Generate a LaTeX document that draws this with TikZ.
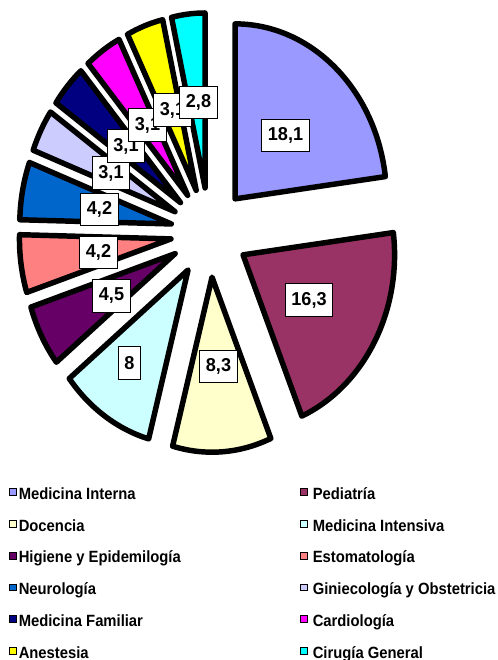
\documentclass[tikz,border=0pt]{standalone}
\usepackage{fontspec}
\newfontfamily\legendfont[FakeStretch=0.91]{Liberation Sans}
\newfontfamily\labelfont[FakeStretch=0.97]{Liberation Sans}

\definecolor{colMI}{HTML}{9999FF}
\definecolor{colPed}{HTML}{993366}
\definecolor{colDoc}{HTML}{FFFFCC}
\definecolor{colMInt}{HTML}{CCFFFF}
\definecolor{colHig}{HTML}{660066}
\definecolor{colEst}{HTML}{FF8080}
\definecolor{colNeu}{HTML}{0066CC}
\definecolor{colGin}{HTML}{CCCCFF}
\definecolor{colMF}{HTML}{000080}
\definecolor{colCar}{HTML}{FF00FF}
\definecolor{colAne}{HTML}{FFFF00}
\definecolor{colCir}{HTML}{00FFFF}

\begin{document}
\begin{tikzpicture}[x=0.75pt, y=0.75pt,
  slice/.style={draw=black, line width=4.1pt, line join=round},
  valbox/.style={draw=black, line width=0.75pt, fill=white, inner xsep=4.7pt, inner ysep=0pt,
    minimum height=24.3pt, font=\labelfont\bfseries\fontsize{14}{16}\selectfont},
  keybox/.style={draw=black, line width=0.6pt, minimum size=5.2pt, inner sep=0pt},
  keytext/.style={anchor=base west, inner sep=0pt, font=\legendfont\bfseries\fontsize{12.2}{14}\selectfont}]

  \useasboundingbox (0,0) rectangle (497,660);

  % exploded pie
  \begin{scope}[shift={(209.4,427.5)}, xscale=0.866]
    \filldraw[slice, fill=colMI]   (48.655:44.8)   -- ++(90:175)      arc[start angle=90,      end angle=7.31,    radius=175] -- cycle;
    \filldraw[slice, fill=colPed]  (-29.925:44.8)  -- ++(7.31:175)    arc[start angle=7.31,    end angle=-67.16,  radius=175] -- cycle;
    \filldraw[slice, fill=colDoc]  (-86.12:44.8)   -- ++(-67.16:175)  arc[start angle=-67.16,  end angle=-105.08, radius=175] -- cycle;
    \filldraw[slice, fill=colMInt] (-123.355:44.8) -- ++(-105.08:175) arc[start angle=-105.08, end angle=-141.63, radius=175] -- cycle;
    \filldraw[slice, fill=colHig]  (-151.91:44.8)  -- ++(-141.63:175) arc[start angle=-141.63, end angle=-162.19, radius=175] -- cycle;
    \filldraw[slice, fill=colEst]  (-171.785:44.8) -- ++(-162.19:175) arc[start angle=-162.19, end angle=-181.38, radius=175] -- cycle;
    \filldraw[slice, fill=colNeu]  (-190.975:44.8) -- ++(-181.38:175) arc[start angle=-181.38, end angle=-200.57, radius=175] -- cycle;
    \filldraw[slice, fill=colGin]  (-207.65:44.8)  -- ++(-200.57:175) arc[start angle=-200.57, end angle=-214.73, radius=175] -- cycle;
    \filldraw[slice, fill=colMF]   (-221.81:44.8)  -- ++(-214.73:175) arc[start angle=-214.73, end angle=-228.89, radius=175] -- cycle;
    \filldraw[slice, fill=colCar]  (-235.97:44.8)  -- ++(-228.89:175) arc[start angle=-228.89, end angle=-243.05, radius=175] -- cycle;
    \filldraw[slice, fill=colAne]  (-250.13:44.8)  -- ++(-243.05:175) arc[start angle=-243.05, end angle=-257.21, radius=175] -- cycle;
    \filldraw[slice, fill=colCir]  (-263.605:44.8) -- ++(-257.21:175) arc[start angle=-257.21, end angle=-270,    radius=175] -- cycle;
  \end{scope}

  % value labels
  \node[valbox] at (285.5,524.5) (valMI)   {18,1};
  \node[valbox] at (309,360)     (valPed)  {16,3};
  \node[valbox] at (218.5,293.5) (valDoc)  {8,3};
  \node[valbox] at (129.5,297)   (valMInt) {8};
  \node[valbox] at (111.5,364)   (valHig)  {4,5};
  \node[valbox] at (98.5,407.5)  (valEst)  {4,2};
  \node[valbox] at (99.5,450.5)  (valNeu)  {4,2};
  \node[valbox] at (111,487)     (valGin)  {3,1};
  \node[valbox] at (126,514)     (valMF)   {3,1};
  \node[valbox] at (147.5,535)   (valCar)  {3,1};
  \node[valbox] at (172.5,550)   (valAne)  {3,1};
  \node[valbox] at (198.5,557.3) (valCir)  {2,8};

  % legend
  \node[keybox, fill=colMI]   at (13,168.3) (keyMI)   {};
  \node[keytext]              at (18.5,160.5) (txtMI) {Medicina Interna};
  \node[keybox, fill=colDoc]  at (13,136.4) (keyDoc)  {};
  \node[keytext]              at (18.5,128.8) (txtDoc) {Docencia};
  \node[keybox, fill=colHig]  at (13,104.5) (keyHig)  {};
  \node[keytext]              at (18.5,97.1) (txtHig) {Higiene y Epidemilogía};
  \node[keybox, fill=colNeu]  at (13,72.6) (keyNeu)   {};
  \node[keytext]              at (18.5,65.4) (txtNeu) {Neurología};
  \node[keybox, fill=colMF]   at (13,40.7) (keyMF)    {};
  \node[keytext]              at (18.5,33.7) (txtMF) {Medicina Familiar};
  \node[keybox, fill=colAne]  at (13,8.8) (keyAne)    {};
  \node[keytext]              at (18.5,2) (txtAne) {Anestesia};

  \node[keybox, fill=colPed]  at (304,168.3) (keyPed)  {};
  \node[keytext]              at (312.5,160.5) (txtPed) {Pediatría};
  \node[keybox, fill=colMInt] at (304,136.4) (keyMInt) {};
  \node[keytext]              at (312.5,128.8) (txtMInt) {Medicina Intensiva};
  \node[keybox, fill=colEst]  at (304,104.5) (keyEst)  {};
  \node[keytext]              at (312.5,97.1) (txtEst) {Estomatología};
  \node[keybox, fill=colGin]  at (304,72.6) (keyGin)   {};
  \node[keytext]              at (312.5,65.4) (txtGin) {Giniecología y Obstetricia};
  \node[keybox, fill=colCar]  at (304,40.7) (keyCar)   {};
  \node[keytext]              at (312.5,33.7) (txtCar) {Cardiología};
  \node[keybox, fill=colCir]  at (304,8.8) (keyCir)    {};
  \node[keytext]              at (312.5,2) (txtCir) {Cirugía General};
\end{tikzpicture}
\end{document}
